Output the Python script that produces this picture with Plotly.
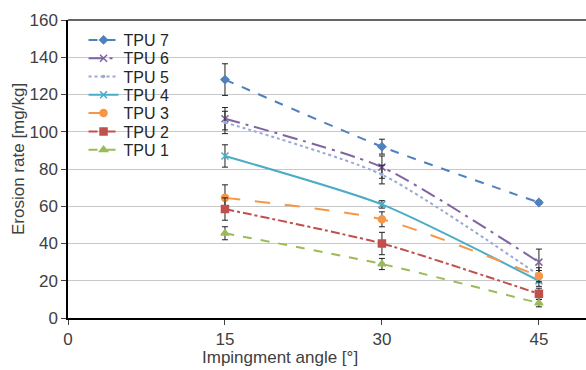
import plotly.graph_objects as go

angles = [15, 30, 45]
series_names = ["TPU 7", "TPU 6", "TPU 5", "TPU 4", "TPU 3", "TPU 2", "TPU 1"]
tpu7 = [128, 92, 62]
tpu6 = [107, 81, 30]
tpu5 = [105, 77, 23]
tpu4 = [87, 61, 20]
tpu3 = [64.5, 53, 22.5]
tpu2 = [58.5, 40, 13]
tpu1 = [45.5, 29, 8]
err7 = [8.5, 4, 1]
err6 = [6, 6, 7]
err5 = [6, 5, 4]
err4 = [6, 2, 3]
err3 = [7, 4, 3]
err2 = [6, 6, 3]
err1 = [3.5, 3, 2]

values = [tpu7, tpu6, tpu5, tpu4, tpu3, tpu2, tpu1]
errors = [err7, err6, err5, err4, err3, err2, err1]
colors = ["#4F81BD", "#8064A2", "#9AA8D8", "#4BACC6", "#F79646", "#C0504D", "#9BBB59"]
dashes = ["dash", "longdashdot", "dot", "solid", "longdash", "dashdot", "dash"]
symbols = ["diamond", "x-thin", "circle", "x-thin", "circle", "square", "triangle-up"]
msizes = [6, 7, 2, 7, 7, 7, 7]

# plot area geometry in pixels (for legend placement)
H, T, B = 370, 20, 52
ph = H - T - B
legend_top_px = 40.0
legend_step_px = 18.3

fig = go.Figure()
layout_legends = {}
for i, (name, v, e, c, d, s, ms) in enumerate(zip(series_names, values, errors, colors, dashes, symbols, msizes)):
    lname = "legend" if i == 0 else f"legend{i + 1}"
    fig.add_trace(go.Scatter(
        x=angles, y=v, name=name, mode="lines+markers", legend=lname,
        line=dict(color=c, width=2, dash=d, shape="spline", smoothing=0.6),
        marker=dict(symbol=s, size=ms, color=c, line=dict(color=c, width=1.5)),
        error_y=dict(type="data", array=e, visible=True, color="#222222", thickness=1, width=3),
    ))
    ypx = legend_top_px + i * legend_step_px
    layout_legends[lname] = dict(
        x=0.03, y=(H - B - ypx) / ph, xanchor="left", yanchor="middle",
        bgcolor="rgba(255,255,255,0)", font=dict(size=16, color="#262626"),
        itemwidth=30, borderwidth=0,
    )

fig.update_layout(
    width=586, height=370,
    margin=dict(l=68, r=0, t=T, b=B),
    paper_bgcolor="white", plot_bgcolor="white",
    font=dict(family="Liberation Sans, Arial, sans-serif", size=17, color="#404040"),
    showlegend=True,
    **layout_legends,
)
# white box behind the legend entries (hides gridlines like the reference)
fig.add_shape(type="rect", xref="paper", yref="paper",
              x0=0.03, x1=0.25,
              y0=(H - B - (legend_top_px + 6 * legend_step_px + 10)) / ph,
              y1=(H - B - (legend_top_px - 10)) / ph,
              fillcolor="white", line=dict(width=0), layer="below")
fig.update_xaxes(
    range=[0, 49.5], tickvals=[0, 15, 30, 45], ticks="outside", ticklen=5,
    tickfont=dict(size=17),
    showline=True, linecolor="#000000", linewidth=1.5, mirror=False,
    showgrid=False, zeroline=False,
)
fig.update_yaxes(
    range=[0, 160], tickvals=list(range(0, 161, 20)), ticks="outside", ticklen=5,
    tickfont=dict(size=17),
    showline=True, linecolor="#000000", linewidth=1.5,
    showgrid=True, gridcolor="#C8C8C8", gridwidth=1, zeroline=False,
)
fig.add_annotation(text="Impingment angle [°]", xref="paper", yref="paper",
                   x=(280 - 68) / 518, y=(H - B - 357) / ph, xanchor="center", yanchor="middle",
                   showarrow=False, font=dict(size=17, color="#404040"))
fig.add_annotation(text="Erosion rate [mg/kg]", xref="paper", yref="paper",
                   x=(18 - 68) / 518, y=(H - B - 159) / ph, xanchor="center", yanchor="middle",
                   textangle=-90, showarrow=False, font=dict(size=17, color="#404040"))
fig.add_shape(type="line", xref="paper", yref="paper", x0=0, x1=1, y0=1, y1=1,
              line=dict(color="#333333", width=1.5))
fig.write_html("out.html")
